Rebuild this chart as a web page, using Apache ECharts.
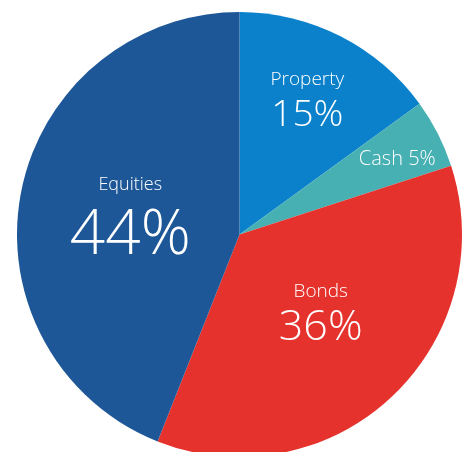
<!DOCTYPE html>
<html>
<head>
<meta charset="utf-8">
<script src="https://cdn.jsdelivr.net/npm/echarts@6/dist/echarts.min.js"></script>
<style>
  html, body { margin: 0; padding: 0; background: #fff; }
  #chart { width: 470px; height: 452px; }
</style>
</head>
<body>
<div id="chart"></div>
<script>
// slices, clockwise from 12 o'clock
var categories = ['Property', 'Cash', 'Bonds', 'Equities'];
var shares = [15, 5, 36, 44];

var colors = ['#0b81cb', '#47b0b3', '#e5322d', '#1d5798'];
// label tweaks per slice: offset from the default inside spot, and which text style
var labelOffsets = [[16, -29], [56, -23], [3, -2], [3, 10]];
var labelFormats = [
    '{n|{b}}\n{p|{c}%}',
    '{c1|{b} {c}%}',
    '{n|{b}}\n{p2|{c}%}',
    '{nb|{b}}\n{pb|{c}%}'
];

var chart = echarts.init(document.getElementById('chart'));

var seriesData = categories.map(function (name, i) {
    return {
        name: name,
        value: shares[i],
        itemStyle: { color: colors[i] },
        label: { offset: labelOffsets[i], formatter: labelFormats[i] }
    };
});

function txt(size, lh) {
    return { fontSize: size, lineHeight: lh, color: '#fff', fontFamily: 'Open Sans', fontWeight: 300 };
}

chart.setOption({
    animation: false,
    series: [{
        type: 'pie',
        center: [239.5, 234.5],
        radius: [0, 222.5],
        startAngle: 90,
        clockwise: true,
        avoidLabelOverlap: false,
        label: {
            show: true,
            position: 'inside',
            color: '#fff',
            fontFamily: 'Open Sans',
            rich: {
                n: txt(19, 24),
                p: txt(37, 48),
                p2: txt(43, 48),
                c1: txt(20, 24),
                nb: txt(18, 26),
                pb: txt(62, 76)
            }
        },
        labelLine: { show: false },
        emphasis: { disabled: true },
        data: seriesData
    }]
});
</script>
</body>
</html>
